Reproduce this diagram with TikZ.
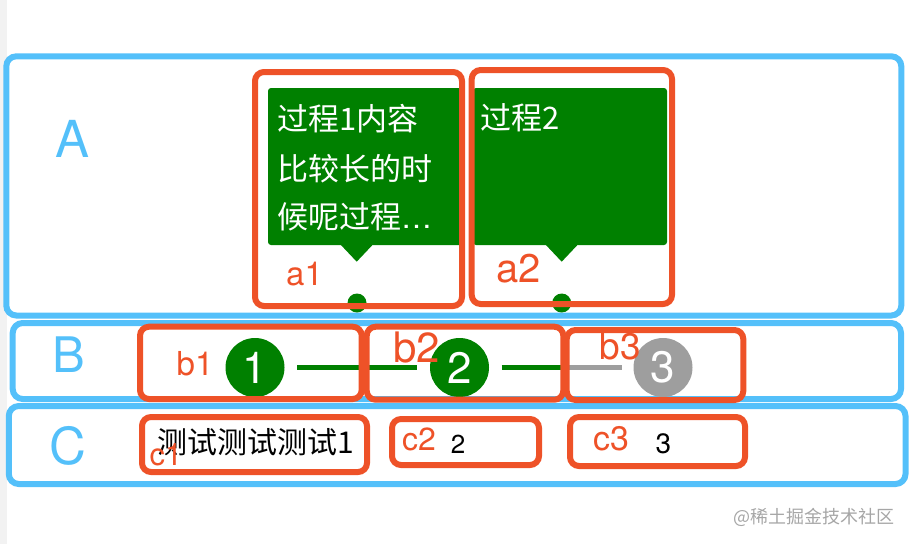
\documentclass[tikz,border=0pt]{standalone}
\usepackage{fontspec}
\setmainfont{TeX Gyre Heros}
\newfontfamily\cjk{Noto Sans CJK SC}
\newfontfamily\latin{TeX Gyre Heros}
\definecolor{bluec}{RGB}{84,192,250}
\definecolor{redc}{RGB}{238,82,40}
\definecolor{greenc}{RGB}{0,128,0}
\definecolor{greyc}{RGB}{158,158,158}
\newcommand\fsz[1]{\fontsize{#1}{#1}\selectfont}
\begin{document}
\begin{tikzpicture}[x=1pt,y=-1pt,
 bluebox/.style={draw=bluec, line width=6pt, rounded corners=10pt},
 redbox/.style={draw=redc, line width=6pt, rounded corners=9pt},
 bubble/.style={fill=greenc, rounded corners=3pt},
 dotc/.style={circle, fill=greenc, minimum size=19pt, inner sep=0},
 stepdone/.style={circle, fill=greenc, minimum size=59pt, inner sep=0, text=white, font=\fsz{44}},
 steptodo/.style={stepdone, fill=greyc},
 rowlabel/.style={text=bluec, font=\fsz{51}, inner sep=0},
 boxlabel/.style={text=redc, inner sep=0},
 btext/.style={text=white, font=\cjk\fsz{31}, anchor=west, inner sep=0},
 link/.style={line width=4.5pt},
]
\useasboundingbox (0,0) rectangle (912,544);
\fill[gray!10] (0,0) rectangle (7,544);

% blue rows
\draw[bluebox] (6.3,56.3) rectangle (901.3,315.5);
\draw[bluebox] (12.7,323) rectangle (901,399);
\draw[bluebox] (8.8,406) rectangle (905.5,484);
\node[rowlabel] (lA) at (72.5,139) {A};
\node[rowlabel, font=\fsz{49}] (lB) at (69,354.5) {B};
\node[rowlabel] (lC) at (67.5,446) {C};

% green bubbles
\fill[bubble] (268,88) rectangle (462,245);
\fill[greenc] (340,244) -- (373.4,244) -- (356.7,261.7) -- cycle;
\fill[bubble] (473,88) rectangle (667,245);
\fill[greenc] (545,244) -- (578.4,244) -- (561.7,261.7) -- cycle;
\node[btext] (t11) at (277,119) {过程1内容};
\node[btext] (t12) at (277,168.5) {比较长的时};
\node[btext] (t13) at (277,216.5) {候呢过程{\latin …}};
\node[btext] (t2) at (480,118) {过程2};
\node[dotc] (d1) at (357,303) {};
\node[dotc] (d2) at (561.7,303) {};

% steps
\node[stepdone] (s1) at (255,367.5) {1};
\node[stepdone] (s2) at (459.5,367.5) {2};
\node[steptodo] (s3) at (663,367.5) {3};
\coordinate (mid) at (562.5,367.5);
\draw[link, greenc, shorten <=12.5pt, shorten >=13pt] (s1) -- (s2);
\draw[link, greenc, shorten <=12.5pt] (s2) -- (mid);
\draw[link, greyc, shorten >=11.5pt] (mid) -- (s3);

% C row texts
\node[font=\cjk\fsz{30}, anchor=west, inner sep=0] (tc1) at (157,442.5) {测试测试测试1};
\node[font=\fsz{26}, inner sep=0] (tc2) at (458,444) {2};
\node[font=\fsz{28}, inner sep=0] (tc3) at (663.5,443.5) {3};

% red boxes
\draw[redbox] (255,72) rectangle (462,306);
\draw[redbox] (471.7,70) rectangle (672,304);
\draw[redbox] (140,326.7) rectangle (361.7,399);
\draw[redbox] (366.7,326.7) rectangle (563.3,399.7);
\draw[redbox] (566.7,330) rectangle (743.3,400);
\draw[redbox] (142,417) rectangle (367,472);
\draw[redbox] (392,419) rectangle (539,465);
\draw[redbox] (570,417) rectangle (745,466);

% red labels
\node[boxlabel, font=\fsz{33}] (la1) at (304.5,274.5) {a1};
\node[boxlabel, font=\fsz{40}] (la2) at (518.5,269) {a2};
\node[boxlabel, font=\fsz{33}] (lb1) at (195,363.3) {b1};
\node[boxlabel, font=\fsz{42}] (lb2) at (416.5,347.5) {b2};
\node[boxlabel, font=\fsz{37}] (lb3) at (620,346.5) {b3};
\node[boxlabel, font=\fsz{31}] (lc1) at (166,455) {c1};
\node[boxlabel, font=\fsz{32}] (lc2) at (419,439) {c2};
\node[boxlabel, font=\fsz{34}] (lc3) at (611,439) {c3};

% watermark
\node[font=\cjk\fsz{18}, text=gray!70, anchor=east, inner sep=0] (wm) at (895,517) {@稀土掘金技术社区};
\end{tikzpicture}
\end{document}
